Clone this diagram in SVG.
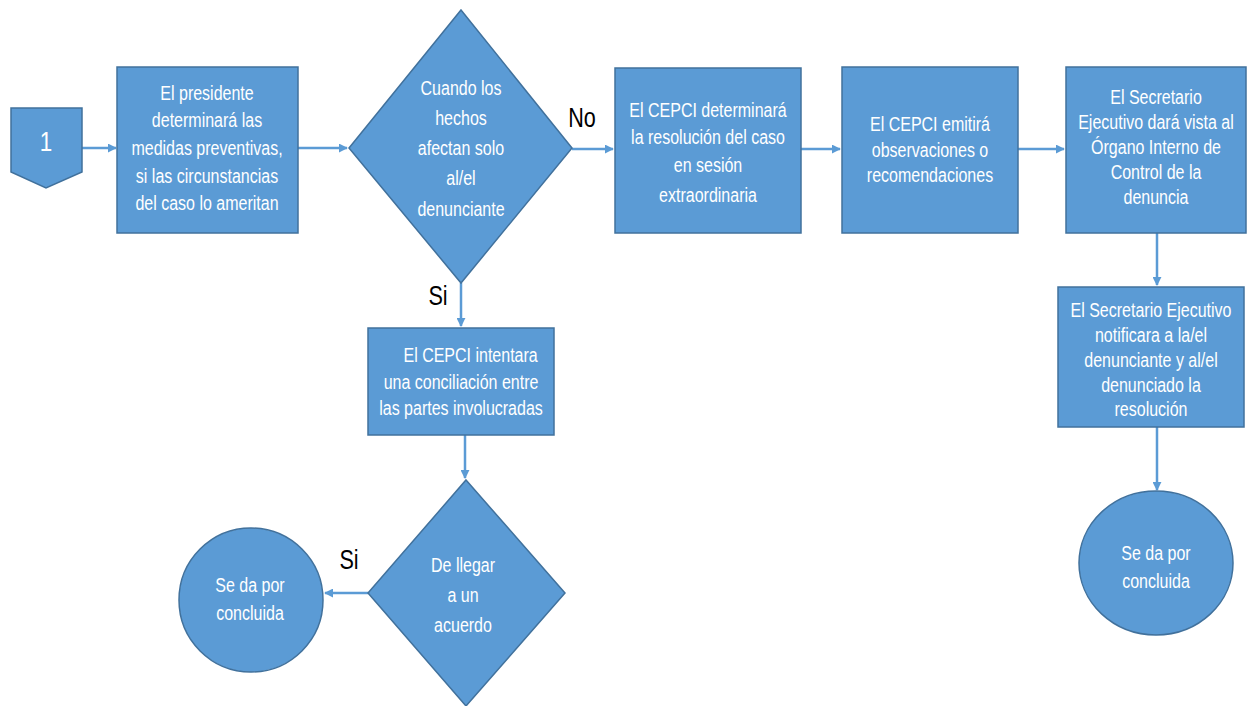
<svg xmlns="http://www.w3.org/2000/svg" width="1256" height="706" viewBox="0 0 1256 706">
<style>
.n{fill:#5b9bd5;stroke:#41719c;stroke-width:1.5}
.t{font-family:"Liberation Sans",Arial,sans-serif;font-size:20px;fill:#ffffff;text-anchor:middle;dominant-baseline:central}
.l{font-family:"Liberation Sans",Arial,sans-serif;font-size:27px;fill:#000000;text-anchor:middle;dominant-baseline:central}
.c{stroke:#5b9bd5;stroke-width:2.5;fill:none;marker-end:url(#ah)}
</style>
<defs>
<marker id="ah" viewBox="0 0 10 10" refX="9" refY="5" markerWidth="3.6" markerHeight="3.6" orient="auto" markerUnits="strokeWidth">
<path d="M0,0 L10,5 L0,10 z" fill="#5b9bd5"/>
</marker>
</defs>
<rect width="1256" height="706" fill="#ffffff"/>
<g id="connectors">
<line class="c" x1="82" y1="148" x2="116" y2="148"/>
<line class="c" x1="298" y1="148" x2="347" y2="148"/>
<line class="c" x1="572" y1="149" x2="613" y2="149"/>
<line class="c" x1="801" y1="149" x2="840" y2="149"/>
<line class="c" x1="1018" y1="149" x2="1064" y2="149"/>
<line class="c" x1="1157" y1="233" x2="1157" y2="285"/>
<line class="c" x1="1157" y1="427" x2="1157" y2="490"/>
<line class="c" x1="461" y1="283" x2="461" y2="326"/>
<line class="c" x1="465" y1="435" x2="465" y2="478"/>
<line class="c" x1="368" y1="593" x2="325" y2="593"/>
</g>
<g id="start">
<path class="n" d="M11,108 L82,108 L82,172 L46,188 L11,172 Z"/>
<g transform="translate(46,0) scale(0.8,1)"><text class="t" x="0" y="141" style="font-size:28px">1</text></g>
</g>
<g id="presidente">
<rect class="n" x="117" y="67" width="181" height="166"/>
<g transform="translate(207,0) scale(0.8,1)">
<text class="t" x="0" y="93">El presidente</text>
<text class="t" x="0" y="120">determinará las</text>
<text class="t" x="0" y="148">medidas preventivas,</text>
<text class="t" x="0" y="176">si las circunstancias</text>
<text class="t" x="0" y="203">del caso lo ameritan</text>
</g>
</g>
<g id="decision1">
<path class="n" d="M461,10 L572,148 L461,283 L349,148 Z"/>
<g transform="translate(461,0) scale(0.8,1)">
<text class="t" x="0" y="88">Cuando los</text>
<text class="t" x="0" y="118">hechos</text>
<text class="t" x="0" y="148">afectan solo</text>
<text class="t" x="0" y="178">al/el</text>
<text class="t" x="0" y="209">denunciante</text>
</g>
</g>
<g transform="translate(582,0) scale(0.8,1)"><text class="l" x="0" y="118">No</text></g>
<g transform="translate(438,0) scale(0.8,1)"><text class="l" x="0" y="296">Si</text></g>
<g transform="translate(349,0) scale(0.8,1)"><text class="l" x="0" y="560">Si</text></g>
<g id="resolucion">
<rect class="n" x="615" y="68" width="186" height="165"/>
<g transform="translate(708,0) scale(0.8,1)">
<text class="t" x="0" y="110">El CEPCI determinará</text>
<text class="t" x="0" y="137">la resolución del caso</text>
<text class="t" x="0" y="165">en sesión</text>
<text class="t" x="0" y="195">extraordinaria</text>
</g>
</g>
<g id="observaciones">
<rect class="n" x="842" y="67" width="176" height="166"/>
<g transform="translate(930,0) scale(0.8,1)">
<text class="t" x="0" y="124">El CEPCI emitirá</text>
<text class="t" x="0" y="150">observaciones o</text>
<text class="t" x="0" y="175">recomendaciones</text>
</g>
</g>
<g id="vista">
<rect class="n" x="1066" y="67" width="180" height="166"/>
<g transform="translate(1156,0) scale(0.8,1)">
<text class="t" x="0" y="97">El Secretario</text>
<text class="t" x="0" y="122">Ejecutivo dará vista al</text>
<text class="t" x="0" y="147">Órgano Interno de</text>
<text class="t" x="0" y="172">Control de la</text>
<text class="t" x="0" y="197">denuncia</text>
</g>
</g>
<g id="notificar">
<rect class="n" x="1058" y="287" width="186" height="140"/>
<g transform="translate(1151,0) scale(0.8,1)">
<text class="t" x="0" y="310">El Secretario Ejecutivo</text>
<text class="t" x="0" y="335">notificara a la/el</text>
<text class="t" x="0" y="360">denunciante y al/el</text>
<text class="t" x="0" y="385">denunciado la</text>
<text class="t" x="0" y="409">resolución</text>
</g>
</g>
<g id="fin1">
<ellipse class="n" cx="1156" cy="563" rx="77" ry="72"/>
<g transform="translate(1156,0) scale(0.8,1)">
<text class="t" x="0" y="553">Se da por</text>
<text class="t" x="0" y="581">concluida</text>
</g>
</g>
<g id="conciliacion">
<rect class="n" x="368" y="328" width="186" height="107"/>
<g transform="translate(461,0) scale(0.8,1)">
<text class="t" x="12" y="355">El CEPCI intentara</text>
<text class="t" x="0" y="382">una conciliación entre</text>
<text class="t" x="0" y="408">las partes involucradas</text>
</g>
</g>
<g id="decision2">
<path class="n" d="M466,480 L565,593 L466,706 L368,593 Z"/>
<g transform="translate(463,0) scale(0.8,1)">
<text class="t" x="0" y="565">De llegar</text>
<text class="t" x="0" y="595">a un</text>
<text class="t" x="0" y="625">acuerdo</text>
</g>
</g>
<g id="fin2">
<ellipse class="n" cx="251" cy="600" rx="72" ry="72"/>
<g transform="translate(250,0) scale(0.8,1)">
<text class="t" x="0" y="585">Se da por</text>
<text class="t" x="0" y="613">concluida</text>
</g>
</g>
</svg>
